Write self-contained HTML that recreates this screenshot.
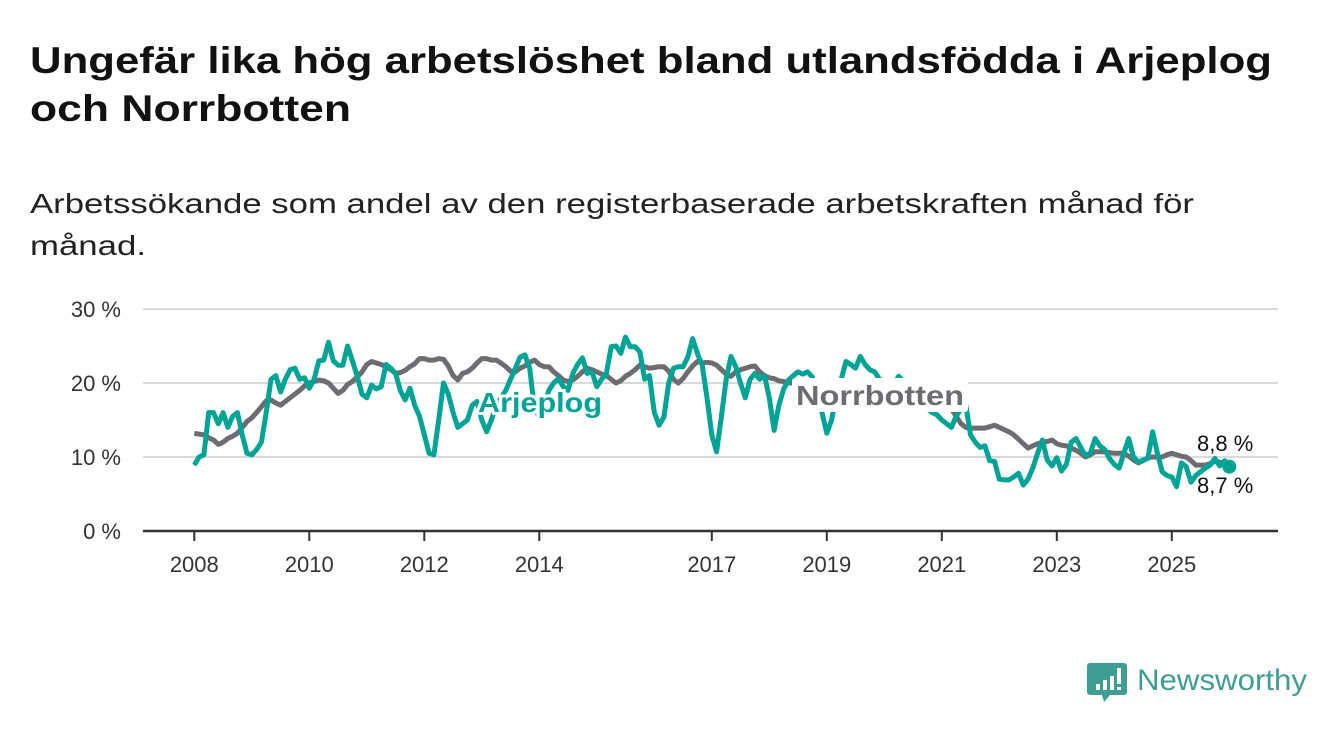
<!DOCTYPE html>
<html><head><meta charset="utf-8"><style>
body{margin:0;background:#fff;width:1340px;height:734px;overflow:hidden}
svg{display:block;font-family:"Liberation Sans",sans-serif}
</style></head><body>
<svg width="1340" height="734" viewBox="0 0 1340 734">
<text x="30" y="73" font-size="37" font-weight="bold" fill="#111" textLength="1242" lengthAdjust="spacingAndGlyphs">Ungefär lika hög arbetslöshet bland utlandsfödda i Arjeplog</text>
<text x="30" y="121" font-size="37" font-weight="bold" fill="#111" textLength="321" lengthAdjust="spacingAndGlyphs">och Norrbotten</text>
<text x="30" y="213" font-size="28" fill="#222" textLength="1164" lengthAdjust="spacingAndGlyphs">Arbetssökande som andel av den registerbaserade arbetskraften månad för</text>
<text x="30" y="255" font-size="28" fill="#222" textLength="116" lengthAdjust="spacingAndGlyphs">månad.</text>
<g id="grid"></g>
<g id="yticks"></g>
<g id="xaxis"></g>
<g id="lines"></g>
<g>
<path d="M1090 663 h34 a3 3 0 0 1 3 3 v26 a3 3 0 0 1 -3 3 h-14 l-6 7 l-2 -7 h-12 a3 3 0 0 1 -3 -3 v-26 a3 3 0 0 1 3 -3z" fill="#3f9e94"/>
<rect x="1096" y="684" width="4" height="6" fill="#fff"/><rect x="1103" y="680" width="4" height="10" fill="#fff"/><rect x="1110" y="676" width="4" height="14" fill="#fff"/><rect x="1117" y="668" width="4" height="16" fill="#fff"/><rect x="1117" y="687" width="4" height="3" fill="#fff"/>
<text x="1137" y="690" font-size="30" fill="#3f9e94" textLength="170" lengthAdjust="spacingAndGlyphs">Newsworthy</text>
</g>
</svg>
<script>
const yTicks=[0,10,20,30];
const yTickLabels=["0 %","10 %","20 %","30 %"];
const xTickYears=[2008,2010,2012,2014,2017,2019,2021,2023,2025];
const startYear=2008;
const arjeplog=[8.9,10,10.3,16,16,14.5,16,14,15.5,16,13,10.5,10.3,11,12,16,20.5,21,18.8,20.5,21.8,22,20.5,20.7,19.3,20.5,23,23.1,25.5,23,22.4,22.4,25,23,20.9,18.5,18,19.7,19.2,19.5,22.5,22,21.3,19,17.7,19.3,17,15.5,13,10.5,10.3,15,20,18.5,16,14,14.5,15,17,17.5,15,13.4,15,17,18,19,20.5,22,23.5,23.8,22,16.5,15.5,17,19,20,20.6,19.5,19,21.3,22.5,23.4,21.3,21.5,19.5,20.5,21.3,24.9,25,24,26.2,24.9,24.9,24.2,20.5,21,16,14.3,15.4,20,22,22.2,22.2,23.5,26,24,22.4,18,13,10.7,15.5,20.5,23.6,22.2,20,18,20.5,21.3,20.5,21,18,13.6,17,19.2,20.4,21,21.5,21.2,21.5,20.8,18,16,13.2,15,18.5,20.5,22.9,22.5,22,23.6,22.5,21.8,21.5,20.5,20.2,19.5,19.8,20.9,20.2,19.7,19.5,18,17,16.5,16,15.7,15,14.5,14,15.5,16.5,17,13,12,11.3,11.5,9.5,9.4,7,6.9,6.9,7.3,7.8,6.2,7,8.5,10.5,12.3,9.6,8.8,9.9,8.1,9,12,12.5,11.3,10.2,10.5,12.5,11.5,11,9.8,9,8.5,10.5,12.5,10,9.3,9.6,9.8,13.4,10.5,8,7.5,7.3,6,9.2,8.7,6.6,7.5,8,8.5,8.9,9.8,8.8,9.5,8.7];
const norrbotten=[13.2,13.1,13,12.6,12.3,11.7,12,12.5,12.8,13.2,14,14.8,15.3,16,16.8,17.6,17.7,17.3,17,17.5,18,18.5,19,19.6,20,20.2,20.4,20.3,20,19.3,18.6,19,19.8,20.2,20.8,21.5,22.5,22.9,22.7,22.5,22.2,21.8,21.3,21.4,21.7,22.2,22.6,23.3,23.3,23.1,23.1,23.3,23.2,22.3,21,20.4,21.3,21.5,22,22.7,23.3,23.3,23.1,23.1,22.7,22.2,21.6,21.5,22,22.3,22.8,23.1,22.5,22.2,22.2,21.5,21,20.4,20.2,20.4,20.9,21.5,22,21.8,21.5,21.2,21,20.5,20,20.3,20.9,21.3,21.8,22.4,22.2,22,22.1,22.2,22.2,21.6,20.5,20,20.6,21.5,22.3,22.9,22.7,22.8,22.7,22.4,21.8,21.2,20.9,21.5,21.8,22,22.2,22.3,21.5,21,20.7,20.6,20.3,20.2,20,20,19.8,19.8,19.6,19.6,19.5,19.4,19.5,19.6,19.8,20,20.2,20.3,20.3,20.2,20,19.8,19.6,19.5,19.5,19.3,19.2,19,19,18.8,18.6,18.4,18.2,18,17.8,17.5,17.2,16.8,16.5,15.5,14.5,14,13.9,13.9,13.9,13.9,14.1,14.3,14,13.7,13.4,13,12.4,11.8,11.2,11.5,11.8,12,12.1,12.3,11.8,11.6,11.5,11.2,10.9,10.5,10,10.3,10.7,10.7,10.7,10.6,10.5,10.5,10.5,10.1,9.6,9.2,9.5,9.9,10,10,10,10.3,10.5,10.3,10.1,10,9.5,8.9,8.9,8.9,9.1,9.4,9.3,9,8.8];
const lastLabels=["8,8 %","8,7 %"];
const NS="http://www.w3.org/2000/svg";
const X0=194.3, PX_PER_YEAR=57.5, Y0=531, PX_PER_PCT=7.4;
function xScale(monthIdx){return X0+monthIdx*PX_PER_YEAR/12;}
function yScale(v){return Y0-v*PX_PER_PCT;}
function mk(tag,attrs,parent){const e=document.createElementNS(NS,tag);for(const k in attrs)e.setAttribute(k,attrs[k]);parent.appendChild(e);return e;}
const grid=document.getElementById('grid'),yt=document.getElementById('yticks'),xa=document.getElementById('xaxis'),lines=document.getElementById('lines');
yTicks.forEach((v,i)=>{
  if(v>0){const g=mk('line',{x1:143,x2:1278,y1:yScale(v),y2:yScale(v),stroke:'#d9d9d9','stroke-width':2},grid);
  
  }
  const t=mk('text',{x:121,y:yScale(v)+8,'font-size':22,fill:'#333','text-anchor':'end'},yt);
  t.textContent=yTickLabels[i];
  
  
});
const ax=mk('line',{x1:143,x2:1278,y1:Y0,y2:Y0,stroke:'#333','stroke-width':2.5},xa);


xTickYears.forEach(yr=>{
  const x=xScale((yr-startYear)*12);
  mk('line',{x1:x,x2:x,y1:Y0,y2:Y0+10,stroke:'#333','stroke-width':2},xa);
  const t=mk('text',{x:x,y:572,'font-size':22,fill:'#333','text-anchor':'middle'},xa);
  t.textContent=yr;
  
  
});
function path(arr){return arr.map((v,i)=>(i?'L':'M')+xScale(i).toFixed(1)+' '+yScale(v).toFixed(1)).join(' ');}
const pn=mk('path',{d:path(norrbotten),fill:'none',stroke:'#6e6b71','stroke-width':5,'stroke-linejoin':'round'},lines);


const pa=mk('path',{d:path(arjeplog),fill:'none',stroke:'#00a497','stroke-width':5,'stroke-linejoin':'round'},lines);


const li=arjeplog.length-1;
const dot=mk('circle',{cx:xScale(li),cy:yScale(arjeplog[li]),r:7,fill:'#00a497'},lines);


const la=mk('text',{x:478,y:412,'font-size':28,'font-weight':'bold',fill:'#00a497',stroke:'#fff','stroke-width':6,'paint-order':'stroke','textLength':124,'lengthAdjust':'spacingAndGlyphs'},lines);
la.textContent='Arjeplog';


const bg=mk('rect',{x:792,y:378,width:176,height:34,fill:'#fff',rx:3},lines);
const ln=mk('text',{x:796,y:405,'font-size':28,'font-weight':'bold',fill:'#6e6b71','textLength':168,'lengthAdjust':'spacingAndGlyphs'},lines);
ln.textContent='Norrbotten';


const e1=mk('text',{x:1197,y:451,'font-size':22,fill:'#111',stroke:'#fff','stroke-width':4,'paint-order':'stroke'},lines);
e1.textContent=lastLabels[0];


const e2=mk('text',{x:1197,y:493,'font-size':22,fill:'#111',stroke:'#fff','stroke-width':4,'paint-order':'stroke'},lines);
e2.textContent=lastLabels[1];


</script>
</body></html>
